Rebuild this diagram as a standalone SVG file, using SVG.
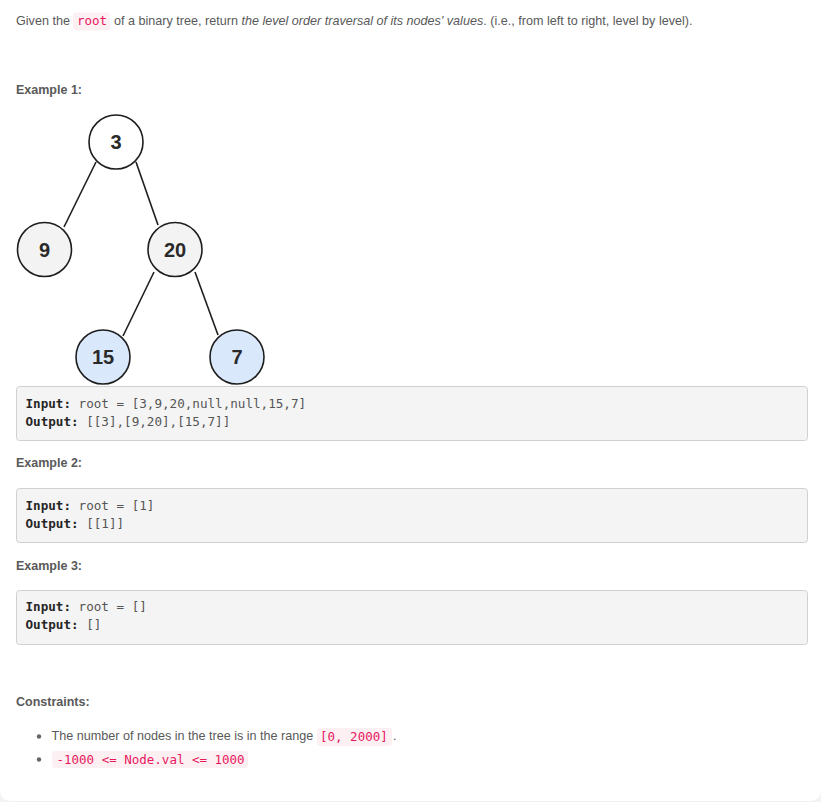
<svg xmlns="http://www.w3.org/2000/svg" width="821" height="802" viewBox="0 0 821 802">
<style>
.t{font-family:"Liberation Sans",Arial,sans-serif;font-size:12.6px;fill:#595959}
.h{font-family:"Liberation Sans",Arial,sans-serif;font-size:12.5px;font-weight:bold;fill:#595959}
.m{font-family:"DejaVu Sans Mono","Liberation Mono",monospace;font-size:12.6px;fill:#555}
.mb{font-weight:bold;fill:#262626}
.ic{font-family:"DejaVu Sans Mono","Liberation Mono",monospace;font-size:12.5px;fill:#e8185e}
.icb{fill:#fcf0f3}
.box{fill:#f4f4f4;stroke:#d0d0d0;stroke-width:1}
.nd{stroke:#1e1e1e;stroke-width:1.6}
.nt{font-family:"Liberation Sans",Arial,sans-serif;font-size:20px;font-weight:bold;fill:#2a2a2a;text-anchor:middle}
.edge{stroke:#1e1e1e;stroke-width:1.6;fill:none}
</style>
<rect x="0" y="0" width="821" height="802" fill="#f2f2f2"/>
<rect x="0" y="-10" width="821" height="811" rx="10" fill="#ffffff"/>

<g id="intro">
<text class="t" x="16" y="25">Given the</text>
<rect class="icb" x="73" y="12.5" width="37" height="18" rx="3"/>
<text class="ic" x="77" y="25">root</text>
<text class="t" x="114" y="25">of a binary tree, return <tspan font-style="italic">the level order traversal of its nodes' values</tspan>. (i.e., from left to right, level by level).</text>
</g>

<text class="h" x="16" y="94">Example 1:</text>

<g id="connectors">
<line class="edge" x1="96" y1="162" x2="64" y2="227"/>
<line class="edge" x1="136" y1="162" x2="158" y2="225"/>
<line class="edge" x1="154" y1="272" x2="123" y2="336"/>
<line class="edge" x1="195" y1="272" x2="218" y2="335"/>
</g>

<g id="node-3">
<circle class="nd" cx="116" cy="142" r="27" fill="#ffffff"/>
<text class="nt" x="116" y="149">3</text>
</g>
<g id="node-9">
<circle class="nd" cx="44.5" cy="249.5" r="27" fill="#f3f3f3"/>
<text class="nt" x="44.5" y="256.5">9</text>
</g>
<g id="node-20">
<circle class="nd" cx="175" cy="249.5" r="27" fill="#f3f3f3"/>
<text class="nt" x="175" y="256.5">20</text>
</g>
<g id="node-15">
<circle class="nd" cx="103" cy="357" r="27" fill="#dae8fc"/>
<text class="nt" x="103" y="364">15</text>
</g>
<g id="node-7">
<circle class="nd" cx="237" cy="357" r="27" fill="#dae8fc"/>
<text class="nt" x="237" y="364">7</text>
</g>

<g id="example1-box">
<rect class="box" x="16.5" y="386.5" width="791" height="54" rx="3"/>
<text class="m" x="25.5" y="407.5"><tspan class="mb">Input:</tspan> root = [3,9,20,null,null,15,7]</text>
<text class="m" x="25.5" y="425.5"><tspan class="mb">Output:</tspan> [[3],[9,20],[15,7]]</text>
</g>

<text class="h" x="16" y="467">Example 2:</text>
<g id="example2-box">
<rect class="box" x="16.5" y="488.5" width="791" height="54" rx="3"/>
<text class="m" x="25.5" y="509.5"><tspan class="mb">Input:</tspan> root = [1]</text>
<text class="m" x="25.5" y="527.5"><tspan class="mb">Output:</tspan> [[1]]</text>
</g>

<text class="h" x="16" y="569.5">Example 3:</text>
<g id="example3-box">
<rect class="box" x="16.5" y="590.5" width="791" height="54" rx="3"/>
<text class="m" x="25.5" y="610.5"><tspan class="mb">Input:</tspan> root = []</text>
<text class="m" x="25.5" y="628.5"><tspan class="mb">Output:</tspan> []</text>
</g>

<text class="h" x="16" y="706">Constraints:</text>
<g id="constraints">
<circle cx="39" cy="736.5" r="2.2" fill="#666"/>
<text class="t" x="51.5" y="740">The number of nodes in the tree is in the range</text>
<rect class="icb" x="317" y="728" width="75" height="18" rx="3"/>
<text class="ic" x="320" y="740.5">[0, 2000]</text>
<text class="t" x="393" y="740">.</text>
<circle cx="39" cy="759.5" r="2.2" fill="#666"/>
<rect class="icb" x="52" y="751" width="196" height="17" rx="3"/>
<text class="ic" x="56.5" y="763.5">-1000 &lt;= Node.val &lt;= 1000</text>
</g>
</svg>
